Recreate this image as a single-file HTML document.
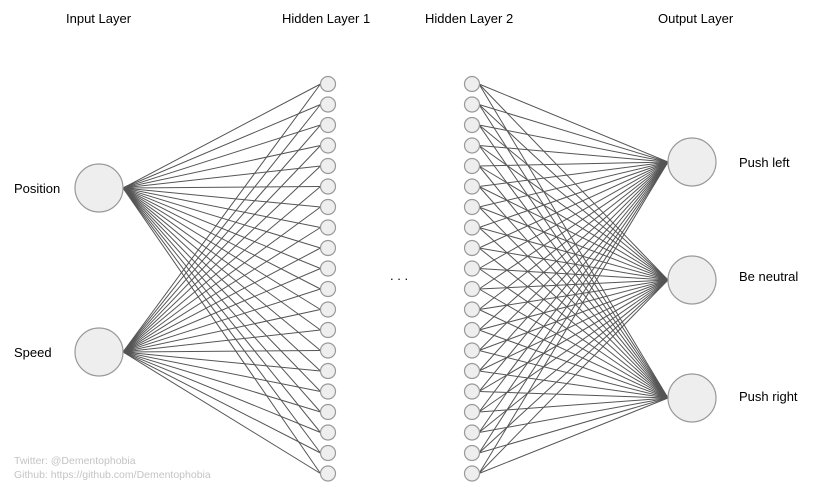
<!DOCTYPE html>
<html><head><meta charset="utf-8"><style>
html,body{margin:0;padding:0;background:#fff;}
svg{display:block;font-family:"Liberation Sans",Arial,sans-serif;}
</style></head><body>
<svg id="s" width="813" height="495" xmlns="http://www.w3.org/2000/svg">
<g id="lines" stroke="#555" stroke-width="1" fill="none"></g>
<g id="nodes" fill="#eee" stroke="#999" stroke-width="1.2"></g>
<g font-size="13" fill="#000">
<text x="66" y="23">Input Layer</text>
<text x="282" y="23">Hidden Layer 1</text>
<text x="425" y="23">Hidden Layer 2</text>
<text x="658" y="23">Output Layer</text>
<text x="14" y="193">Position</text>
<text x="14" y="357">Speed</text>
<text x="739" y="167">Push left</text>
<text x="739" y="281">Be neutral</text>
<text x="739" y="401">Push right</text>
<text x="390" y="280">. . .</text>
</g>
<g font-size="10.5" fill="#c4c4c4">
<text x="14" y="464">Twitter: @Dementophobia</text>
<text x="14" y="478">Github: https://github.com/Dementophobia</text>
</g>
</svg>
<script>
var ns="http://www.w3.org/2000/svg",L=document.getElementById("lines"),N=document.getElementById("nodes");
function ln(a,b,c,d){var e=document.createElementNS(ns,"line");e.setAttribute("x1",a);e.setAttribute("y1",b);e.setAttribute("x2",c);e.setAttribute("y2",d);L.appendChild(e);}
function ci(x,y,r){var e=document.createElementNS(ns,"circle");e.setAttribute("cx",x);e.setAttribute("cy",y);e.setAttribute("r",r);N.appendChild(e);}
var hy=[];for(var i=0;i<20;i++)hy.push(84+i*20.5);
var inp=[188,352],out=[162,280,398];
inp.forEach(function(y){hy.forEach(function(h){ln(123,y,320.5,h);});});
out.forEach(function(y){hy.forEach(function(h){ln(479,h,668,y);});});
inp.forEach(function(y){ci(99,y,24);});
out.forEach(function(y){ci(692,y,24);});
hy.forEach(function(h){ci(328,h,7.5);ci(472,h,7.5);});
</script>
</body></html>
